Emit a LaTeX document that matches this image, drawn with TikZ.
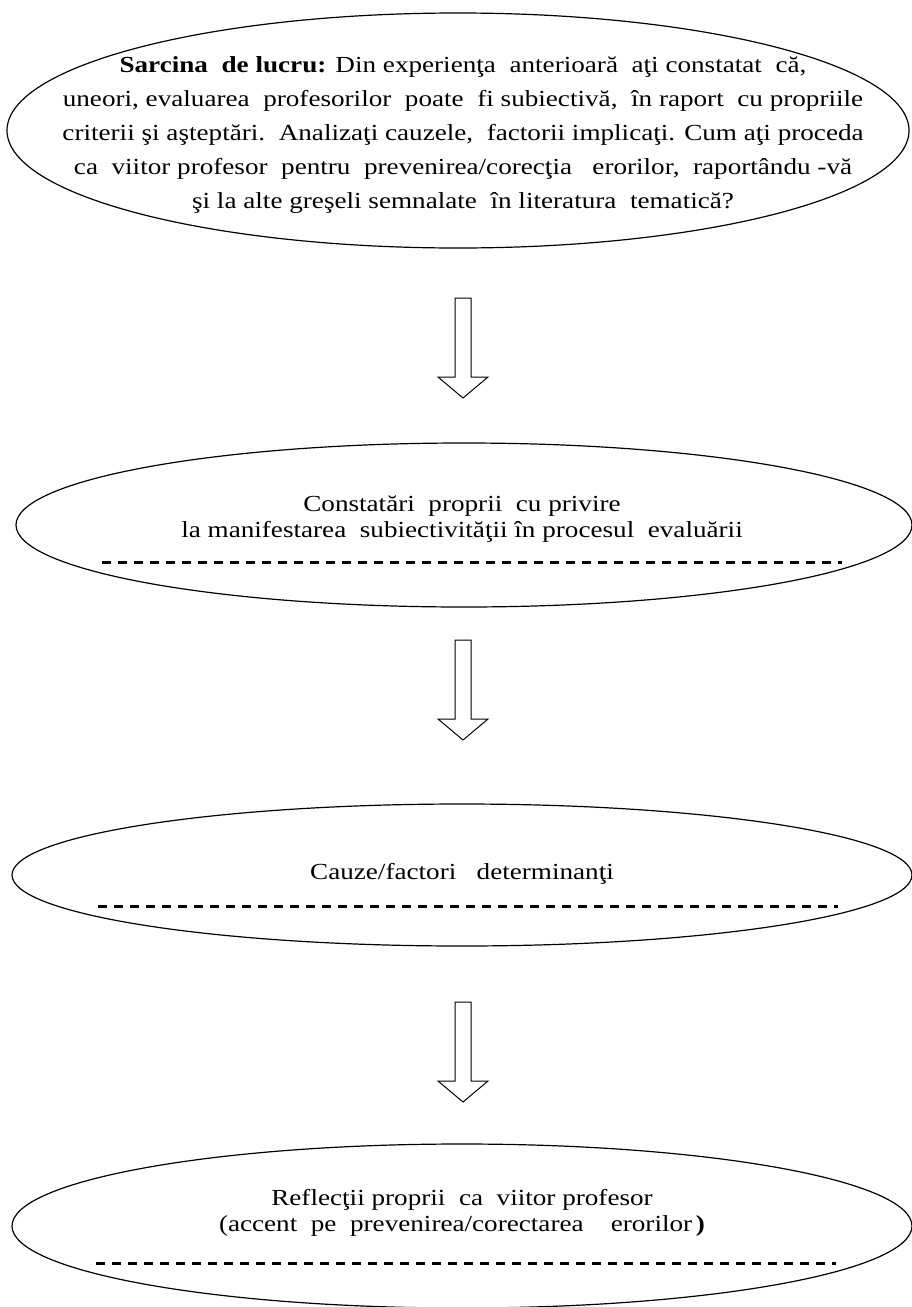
\documentclass[tikz,border=0pt]{standalone}
\usepackage{fontspec}
\setmainfont{Liberation Serif}[FakeStretch=1.18]
\usetikzlibrary{shapes.geometric}
\tikzset{
  oval/.style={ellipse, draw, line width=0.6pt, inner sep=0pt},
  txt/.style={align=center, inner sep=0pt, font=\fontsize{11.5}{13}\selectfont},
  dashline/.style={line width=1.5pt, dash pattern=on 4.3pt off 3.7pt},
  blockarrow/.style={draw, line width=0.5pt, line join=miter}
}
\begin{document}
\begin{tikzpicture}[x=0.5pt, y=-0.5pt]
\useasboundingbox (0,0) rectangle (911,1307);
% ellipses
\node[oval, minimum width=451pt, minimum height=117.5pt] (e1) at (458,130.5) {};
\node[oval, minimum width=448pt, minimum height=82pt] (e2) at (464,525) {};
\node[oval, minimum width=450pt, minimum height=71pt] (e3) at (462,875) {};
\node[oval, minimum width=450pt, minimum height=82pt] (e4) at (462,1226) {};
% texts
\node[txt, font=\fontsize{11.5}{17}\selectfont] (t1) at (463,135) {%
\textbf{Sarcina\ \ de lucru:} Din experienţa\ \ anterioară\ \ aţi constatat\ \ că,\\
uneori, evaluarea\ \ profesorilor\ \ poate\ \ fi subiectivă,\ \ în raport\ \ cu propriile\\
criterii şi aşteptări.\ \ Analizaţi cauzele,\ \ factorii implicaţi. Cum aţi proceda\\
ca\ \ viitor profesor\ \ pentru\ \ prevenirea/corecţia\ \ \ erorilor,\ \ raportându\ -vă\\
şi la alte greşeli semnalate\ \ în literatura\ \ tematică?};
\node[txt] (t2) at (462,519) {Constatări\ \ proprii\ \ cu privire\\
la manifestarea\ \ subiectivităţii în procesul\ \ evaluării};
\node[txt] (t3) at (462,874) {Cauze/factori\ \ \ determinanţi};
\node[txt] (t4) at (462,1213) {Reflecţii proprii\ \ ca\ \ viitor profesor\\
(accent\ \ pe\ \ prevenirea/corectarea\ \ \ \ erorilor\,\textbf{)}};
% dashed lines
\coordinate (d2a) at (102,562); \coordinate (d2b) at (842,562);
\coordinate (d3a) at (98,906);  \coordinate (d3b) at (838,906);
\coordinate (d4a) at (96,1263); \coordinate (d4b) at (836,1263);
\draw[dashline] (d2a) -- (d2b);
\draw[dashline] (d3a) -- (d3b);
\draw[dashline] (d4a) -- (d4b);
% block arrows
\coordinate (a1) at (463,298);
\coordinate (a2) at (463,640);
\coordinate (a3) at (463,1002);
\foreach \a in {a1,a2,a3}{
  \draw[blockarrow] (\a) ++(-8,0) -- ++(0,79) -- ++(-17,0) -- ++(25,21) -- ++(25,-21) -- ++(-17,0) -- ++(0,-79) -- cycle;
}
\end{tikzpicture}
\end{document}
